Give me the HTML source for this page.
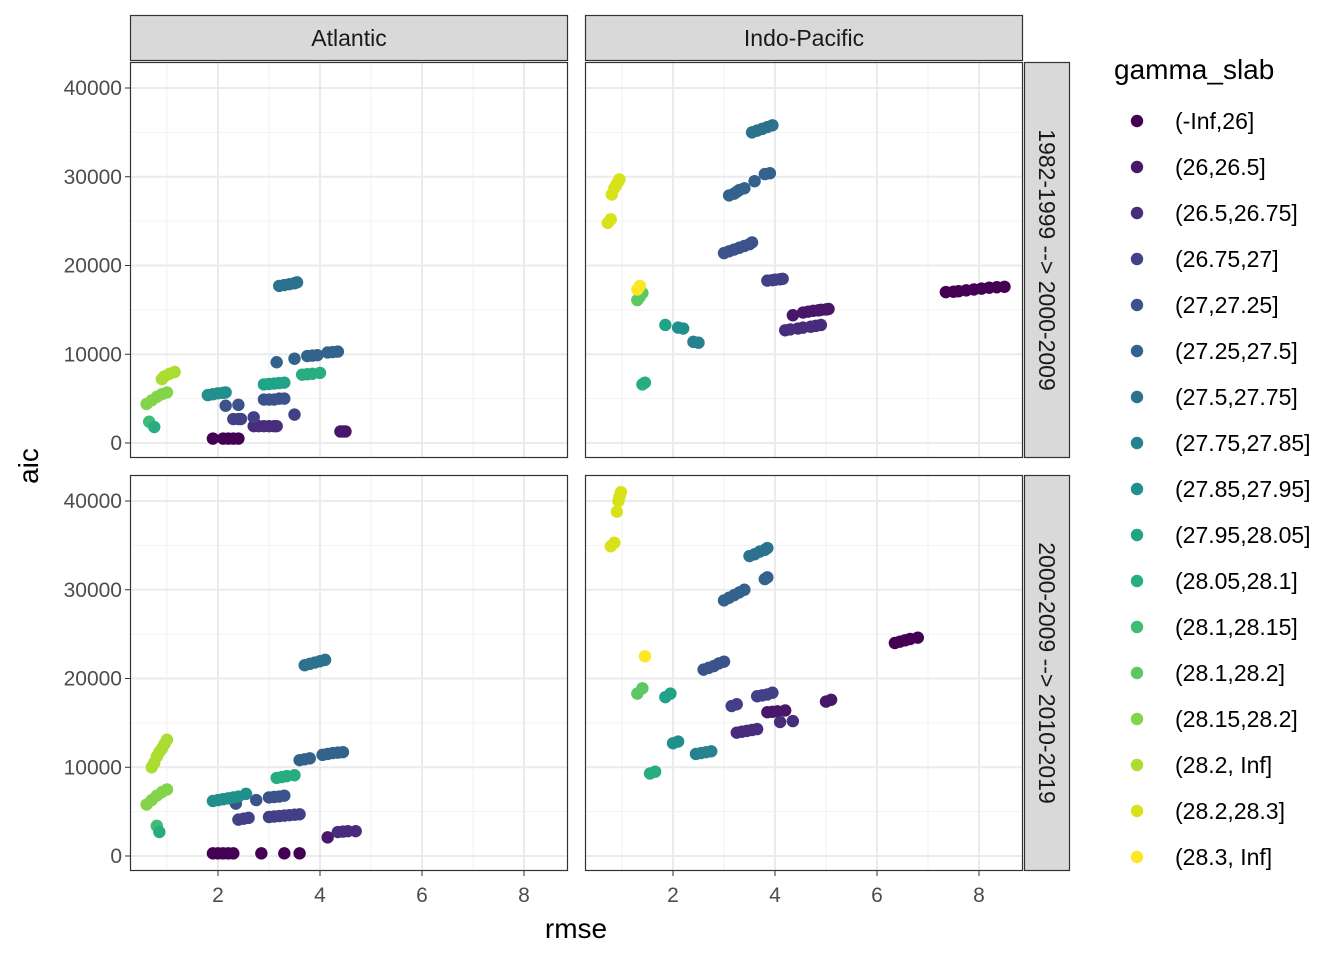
<!DOCTYPE html>
<html><head><meta charset="utf-8"><style>
body{margin:0;background:#fff;}
svg{display:block;font-family:"Liberation Sans",sans-serif;}
</style></head><body>
<svg id="chart" width="1344" height="960" viewBox="0 0 1344 960">
<g id="panels"></g><g id="legend"></g>
</svg>
<script>
const levels=["(-Inf,26]","(26,26.5]","(26.5,26.75]","(26.75,27]","(27,27.25]","(27.25,27.5]","(27.5,27.75]","(27.75,27.85]","(27.85,27.95]","(27.95,28.05]","(28.05,28.1]","(28.1,28.15]","(28.1,28.2]","(28.15,28.2]","(28.2, Inf]","(28.2,28.3]","(28.3, Inf]"];
const colors=["#440154","#481769","#472D7B","#424086","#3B528B","#33638D","#2C728E","#26828E","#21908C","#20A386","#27AD81","#3FBC73","#5DC863","#84D44B","#AADC32","#D8E219","#FDE725"];
const xTicks=[2,4,6,8];
const yTicks=[0,10000,20000,30000,40000];
const yTickLabels=["0","10000","20000","30000","40000"];
// Atlantic 1982-1999 -> 2000-2009
const atlTopRmse=[1.9,2.1,2.2,2.3,2.4, 4.4,4.45,4.5, 2.7,2.8,2.9,3.0,3.1,3.15, 2.3,2.4,2.45,2.7,3.5, 2.15,2.4,2.9,3.0,3.1,3.2,3.3, 3.15,3.5,3.75,3.85,3.95,4.15,4.25,4.35, 3.2,3.3,3.4,3.5,3.55, 1.8,1.9,2.0,2.1,2.15, 2.9,3.0,3.1,3.2,3.3, 3.65,3.75,3.85,4.0, 0.65,0.75, 0.6,0.7,0.8,0.9,1.0, 0.9,0.95,1.05,1.15];
const atlTopAic=[500,500,500,500,500, 1300,1300,1300, 1900,1900,1900,1900,1900,1900, 2700,2700,2700,2900,3200, 4200,4300,4900,4900,4900,5000,5000, 9100,9500,9800,9850,9900,10200,10250,10300, 17700,17800,17900,18000,18100, 5400,5500,5600,5650,5700, 6600,6650,6700,6750,6800, 7700,7750,7800,7900, 2400,1800, 4400,4800,5200,5500,5700, 7200,7500,7800,8000];
const atlTopGrp=[0,0,0,0,0, 1,1,1, 2,2,2,2,2,2, 3,3,3,3,3, 4,4,4,4,4,4,4, 5,5,5,5,5,5,5,5, 6,6,6,6,6, 8,8,8,8,8, 9,9,9,9,9, 10,10,10,10, 11,10, 13,13,13,13,13, 14,14,14,14];
// Atlantic 2000-2009 -> 2010-2019
const atlBotRmse=[1.9,2.0,2.1,2.2,2.3, 2.85,3.3,3.6, 4.15, 4.35,4.45,4.55,4.7, 2.4,2.5,2.6, 3.0,3.1,3.2,3.3,3.4,3.5,3.6, 2.35,2.75,3.0,3.1,3.2,3.3, 1.9,2.0,2.1,2.2,2.3,2.4,2.55, 3.15,3.25,3.35,3.5, 3.6,3.7,3.8, 4.05,4.15,4.25,4.35,4.45, 3.7,3.8,3.9,4.0,4.1, 0.8,0.85, 0.6,0.7,0.8,0.9,1.0, 0.7,0.75,0.8,0.85,0.9,0.95,1.0];
const atlBotAic=[300,300,300,300,300, 300,300,300, 2100, 2700,2750,2800,2800, 4100,4200,4300, 4400,4450,4500,4550,4600,4650,4700, 5900,6300,6600,6650,6700,6800, 6200,6300,6400,6500,6600,6700,7000, 8800,8900,9000,9100, 10800,10900,11000, 11400,11500,11600,11650,11700, 21500,21650,21800,21950,22100, 3400,2700, 5800,6300,6800,7200,7500, 10000,10500,11200,11700,12100,12600,13100];
const atlBotGrp=[0,0,0,0,0, 0,0,0, 1, 2,2,2,2, 3,3,3, 3,3,3,3,3,3,3, 4,4,4,4,4,4, 8,8,8,8,8,8,8, 10,10,10,10, 5,5,5, 5,5,5,5,5, 6,6,6,6,6, 11,10, 13,13,13,13,13, 14,14,14,14,14,14,14];
// Indo-Pacific 1982-1999 -> 2000-2009
const indTopRmse=[7.35,7.5,7.6,7.75,7.9,8.05,8.2,8.35,8.5, 4.35,4.55,4.65,4.75,4.85,4.9,5.0,5.05, 4.2,4.3,4.45,4.55,4.7,4.8,4.9, 3.85,3.95,4.0,4.1,4.15, 3.0,3.1,3.2,3.3,3.4,3.5,3.55, 3.1,3.2,3.25,3.3,3.4,3.6,3.8,3.9, 3.55,3.65,3.75,3.85,3.95, 1.85,2.1,2.2,2.4,2.5, 1.4,1.45, 1.3,1.35,1.4, 1.3,1.35, 0.72,0.78,0.8,0.85,0.88,0.92,0.95];
const indTopAic=[17000,17050,17100,17200,17300,17400,17500,17550,17600, 14400,14700,14800,14900,14950,15000,15050,15100, 12700,12800,12900,13000,13100,13200,13300, 18300,18350,18400,18450,18500, 21400,21600,21800,22000,22200,22400,22600, 27900,28100,28300,28500,28700,29500,30300,30400, 35000,35200,35400,35600,35800, 13300,13000,12900,11400,11300, 6600,6800, 16100,16500,16900, 17300,17700, 24800,25200,28000,28700,29000,29400,29700];
const indTopGrp=[0,0,0,0,0,0,0,0,0, 1,1,1,1,1,1,1,1, 2,2,2,2,2,2,2, 3,3,3,3,3, 4,4,4,4,4,4,4, 5,5,5,5,5,5,5,5, 6,6,6,6,6, 9,8,8,7,7, 10,10, 12,12,12, 16,16, 15,15,15,15,15,15,15];
// Indo-Pacific 2000-2009 -> 2010-2019
const indBotRmse=[6.35,6.45,6.55,6.65,6.8, 5.0,5.1, 3.85,3.95,4.05,4.2, 4.1,4.35, 3.25,3.35,3.45,3.55,3.65, 3.15,3.25, 3.65,3.75,3.85,3.95, 2.6,2.7,2.8,2.9,3.0, 3.0,3.1,3.2,3.3,3.4, 3.8,3.85, 3.5,3.6,3.7,3.8,3.85, 1.85,1.95, 1.3,1.4, 1.45, 2.0,2.1, 2.45,2.55,2.65,2.75, 1.55,1.65, 0.78,0.85,0.9,0.93,0.95,0.98];
const indBotAic=[24000,24150,24300,24450,24600, 17400,17600, 16200,16250,16300,16400, 15100,15200, 13900,14000,14100,14200,14300, 16900,17100, 18000,18100,18200,18400, 21000,21200,21400,21700,21900, 28800,29100,29400,29700,30000, 31200,31400, 33800,34000,34300,34500,34700, 17900,18300, 18300,18900, 22500, 12700,12900, 11500,11600,11700,11800, 9300,9500, 34900,35300,38800,40000,40500,41000];
const indBotGrp=[0,0,0,0,0, 1,1, 1,1,1,1, 2,2, 2,2,2,2,2, 3,3, 3,3,3,3, 4,4,4,4,4, 5,5,5,5,5, 5,5, 6,6,6,6,6, 9,9, 12,12, 16, 8,8, 7,7,7,7, 10,10, 15,15,15,15,15,15];

const NS="http://www.w3.org/2000/svg";
const panelsG=document.getElementById('panels');
function mk(tag,attrs,parent,text){const e=document.createElementNS(NS,tag);for(const k in attrs)e.setAttribute(k,attrs[k]);if(text!==undefined)e.textContent=text;parent.appendChild(e);return e;}
const colX={atl:130,ind:585}, PW=438;
const rowY={top:62,bot:475}, PH=396;
function sx(left,v){return left-14+v*51;}
function sy(top,v){return top+381-v*0.008875;}
const panels=[
 ["atl","top",atlTopRmse,atlTopAic,atlTopGrp,"panel-atlantic-1982-2009"],
 ["atl","bot",atlBotRmse,atlBotAic,atlBotGrp,"panel-atlantic-2000-2019"],
 ["ind","top",indTopRmse,indTopAic,indTopGrp,"panel-indopacific-1982-2009"],
 ["ind","bot",indBotRmse,indBotAic,indBotGrp,"panel-indopacific-2000-2019"]];
panels.forEach(p=>{
 const L=colX[p[0]],T=rowY[p[1]];
 const g=mk('g',{},panelsG);
 
 
 mk('rect',{x:L,y:T,width:PW,height:PH,fill:'#fff'},g);
 [1,3,5,7].forEach(v=>mk('line',{x1:sx(L,v),x2:sx(L,v),y1:T,y2:T+PH,stroke:'#F2F2F2','stroke-width':1},g));
 [5000,15000,25000,35000].forEach(v=>mk('line',{x1:L,x2:L+PW,y1:sy(T,v),y2:sy(T,v),stroke:'#F2F2F2','stroke-width':1},g));
 xTicks.forEach(v=>mk('line',{x1:sx(L,v),x2:sx(L,v),y1:T,y2:T+PH,stroke:'#EBEBEB','stroke-width':2},g));
 yTicks.forEach(v=>mk('line',{x1:L,x2:L+PW,y1:sy(T,v),y2:sy(T,v),stroke:'#EBEBEB','stroke-width':2},g));
 const xs=p[2],ys=p[3],gs=p[4];
 for(let i=0;i<xs.length;i++){
  const c=mk('circle',{cx:sx(L,xs[i]),cy:sy(T,ys[i]),r:6.2,fill:colors[gs[i]]},g);
  
  
 }
 mk('rect',{x:L+0.5,y:T+0.5,width:PW-1,height:PH-1,fill:'none',stroke:'#333','stroke-width':1.2},g);
 if(p[1]==='bot'){xTicks.forEach((v,i)=>{mk('line',{x1:sx(L,v),x2:sx(L,v),y1:T+PH,y2:T+PH+5,stroke:'#333'},g);
  const t=mk('text',{x:sx(L,v),y:T+PH+31,'text-anchor':'middle','font-size':21,fill:'#4D4D4D'},g,String(v));
  });}
 if(p[0]==='atl'){yTicks.forEach((v,i)=>{mk('line',{x1:L-5,x2:L,y1:sy(T,v),y2:sy(T,v),stroke:'#333'},g);
  const t=mk('text',{x:L-8,y:sy(T,v)+7,'text-anchor':'end','font-size':21,fill:'#4D4D4D'},g,yTickLabels[i]);
  });}
});
[["atl","Atlantic"],["ind","Indo-Pacific"]].forEach(s=>{
 const g=mk('g',{},panelsG);
 
 
 mk('rect',{x:colX[s[0]]+0.5,y:15.5,width:PW-1,height:45,fill:'#D9D9D9',stroke:'#333','stroke-width':1.2},g);
 mk('text',{x:colX[s[0]]+PW/2,y:46,'text-anchor':'middle','font-size':23,fill:'#1A1A1A'},g,s[1]);
});
[["top","1982-1999 --> 2000-2009"],["bot","2000-2009 --> 2010-2019"]].forEach(s=>{
 const g=mk('g',{},panelsG);
 
 
 mk('rect',{x:1024.5,y:rowY[s[0]]+0.5,width:45,height:PH-1,fill:'#D9D9D9',stroke:'#333','stroke-width':1.2},g);
 const cy=rowY[s[0]]+PH/2;
 mk('text',{x:1039,y:cy,'text-anchor':'middle','font-size':23,fill:'#1A1A1A',transform:`rotate(90 1039 ${cy})`},g,s[1]);
});
const xt=mk('text',{x:576,y:938,'text-anchor':'middle','font-size':28,fill:'#000'},panelsG,'rmse');

const yt=mk('text',{x:38,y:466,'text-anchor':'middle','font-size':28,fill:'#000',transform:'rotate(-90 38 466)'},panelsG,'aic');

const lg=document.getElementById('legend');


mk('text',{x:1114,y:79,'font-size':28,fill:'#000'},lg,'gamma_slab');
levels.forEach((l,i)=>{
 const y=121+i*46;
 const e=mk('g',{},lg);
 
 
 mk('circle',{cx:1137,cy:y,r:6.2,fill:colors[i]},e);
 mk('text',{x:1175,y:y+8,'font-size':23,fill:'#000'},e,l);
});
</script>
</body></html>
